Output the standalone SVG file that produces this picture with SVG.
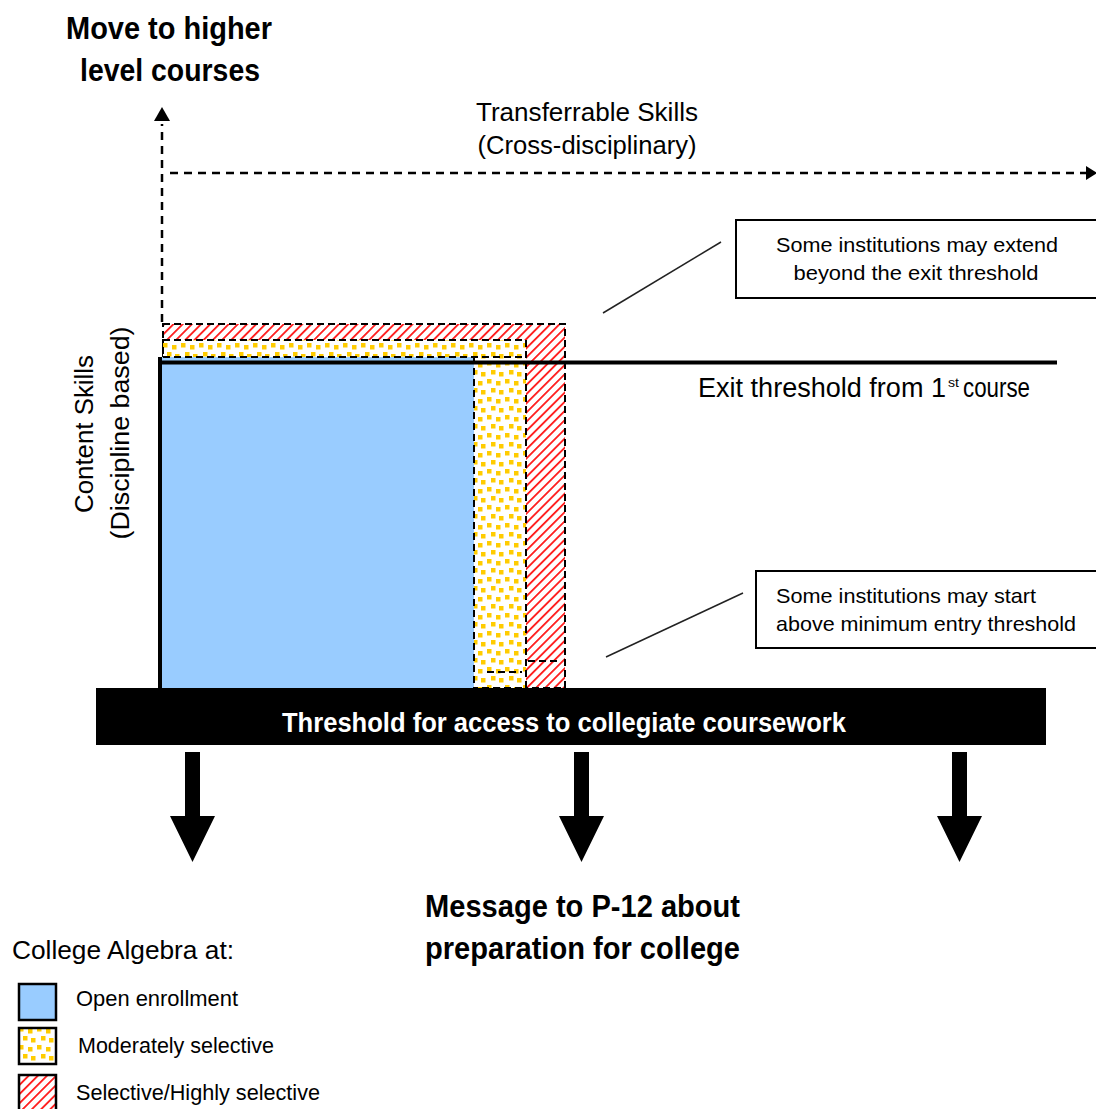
<svg xmlns="http://www.w3.org/2000/svg" width="1096" height="1109" viewBox="0 0 1096 1109">
  <style>
    text { font-family: "Liberation Sans", Arial, sans-serif; fill: #000; }
    .bold { font-weight: bold; }
    .dash { fill: none; stroke: #000; stroke-width: 2; stroke-dasharray: 7 4; }
    .axisdash { fill: none; stroke: #000; stroke-width: 2.5; stroke-dasharray: 8 6; }
    .thin { fill: none; stroke: #222; stroke-width: 1.5; }
    .box { fill: #fff; stroke: #000; stroke-width: 2; }
    .arrow { fill: #000; }
  </style>
  <defs>
    <pattern id="dots" width="18" height="18" patternUnits="userSpaceOnUse">
      <rect width="18" height="18" fill="#fff"/>
      <rect x="1" y="1" width="4.5" height="4.5" fill="#FFCC00"/>
      <rect x="10" y="3" width="4.5" height="4.5" fill="#FFCC00"/>
      <rect x="5" y="10" width="4.5" height="4.5" fill="#FFCC00"/>
      <rect x="13" y="12" width="4.5" height="4.5" fill="#FFCC00"/>
    </pattern>
    <pattern id="hatch" width="6.5" height="6.5" patternUnits="userSpaceOnUse" patternTransform="rotate(45)">
      <rect width="6.5" height="6.5" fill="#fff"/>
      <rect width="1.8" height="6.5" fill="#FF1A1A"/>
    </pattern>
  </defs>

  <!-- Titles -->
  <g id="title-higher">
    <text class="bold" x="169" y="39" font-size="31" text-anchor="middle" textLength="206" lengthAdjust="spacingAndGlyphs">Move to higher</text>
    <text class="bold" x="170" y="81" font-size="31" text-anchor="middle" textLength="180" lengthAdjust="spacingAndGlyphs">level courses</text>
  </g>
  <g id="label-transferrable">
    <text x="587" y="121" font-size="26" text-anchor="middle" textLength="222" lengthAdjust="spacingAndGlyphs">Transferrable Skills</text>
    <text x="587" y="154" font-size="26" text-anchor="middle" textLength="219" lengthAdjust="spacingAndGlyphs">(Cross-disciplinary)</text>
  </g>
  <g id="label-content">
    <text transform="translate(93,434) rotate(-90)" font-size="26" text-anchor="middle" textLength="158" lengthAdjust="spacingAndGlyphs">Content  Skills</text>
    <text transform="translate(129,433) rotate(-90)" font-size="26" text-anchor="middle" textLength="213" lengthAdjust="spacingAndGlyphs">(Discipline based)</text>
  </g>

  <!-- Regions -->
  <g id="selective-region">
    <rect x="163" y="324" width="402" height="364" fill="url(#hatch)"/>
    <rect x="163" y="324" width="402" height="364" class="dash"/>
    <line x1="528" y1="661" x2="558" y2="661" class="dash"/>
  </g>
  <g id="moderate-region">
    <rect x="163" y="340" width="363" height="348" fill="url(#dots)"/>
    <rect x="163" y="340" width="363" height="348" class="dash"/>
    <line x1="487" y1="672" x2="522" y2="672" class="dash"/>
  </g>
  <g id="open-region">
    <rect x="161" y="357" width="313" height="331" fill="#99CCFF"/>
    <line x1="474" y1="357" x2="474" y2="688" class="dash"/>
    <line x1="163" y1="357" x2="526" y2="357" class="dash"/>
  </g>

  <!-- Exit threshold -->
  <g id="exit-threshold">
    <line x1="160" y1="362.5" x2="1057" y2="362.5" stroke="#000" stroke-width="4"/>
    <text x="698" y="397" font-size="27" textLength="248" lengthAdjust="spacingAndGlyphs">Exit threshold from 1</text>
    <text x="948" y="387" font-size="13" textLength="11" lengthAdjust="spacingAndGlyphs">st</text>
    <text x="963" y="397" font-size="27" textLength="67" lengthAdjust="spacingAndGlyphs">course</text>
  </g>

  <!-- Threshold bar -->
  <g id="access-threshold">
    <rect x="96" y="688" width="950" height="57" fill="#000"/>
    <text class="bold" x="564" y="732" font-size="28" text-anchor="middle" style="fill:#fff" textLength="564" lengthAdjust="spacingAndGlyphs">Threshold for access to collegiate coursework</text>
  </g>

  <!-- Callouts -->
  <g id="callout-extend">
    <rect x="736" y="220" width="362" height="78" class="box"/>
    <text x="917" y="252" font-size="21" text-anchor="middle" textLength="282" lengthAdjust="spacingAndGlyphs">Some institutions may extend</text>
    <text x="916" y="280" font-size="21" text-anchor="middle" textLength="245" lengthAdjust="spacingAndGlyphs">beyond the exit threshold</text>
  </g>
  <g id="callout-start">
    <rect x="756" y="571" width="342" height="77" class="box"/>
    <text x="776" y="603" font-size="21" textLength="260" lengthAdjust="spacingAndGlyphs">Some institutions may start</text>
    <text x="776" y="631" font-size="21" textLength="300" lengthAdjust="spacingAndGlyphs">above minimum entry threshold</text>
  </g>

  <!-- Message -->
  <g id="message">
    <text class="bold" x="425" y="917" font-size="31" textLength="315" lengthAdjust="spacingAndGlyphs">Message to P-12 about</text>
    <text class="bold" x="425" y="959" font-size="31" textLength="315" lengthAdjust="spacingAndGlyphs">preparation for college</text>
  </g>

  <!-- Legend -->
  <g id="legend">
    <text x="12" y="959" font-size="26" textLength="222" lengthAdjust="spacingAndGlyphs">College Algebra at:</text>
    <rect x="19" y="984" width="37" height="36" fill="#99CCFF" stroke="#000" stroke-width="2.5"/>
    <text x="76" y="1006" font-size="22" textLength="162" lengthAdjust="spacingAndGlyphs">Open enrollment</text>
    <rect x="19" y="1028" width="37" height="36" fill="url(#dots)" stroke="#000" stroke-width="2.5"/>
    <text x="78" y="1053" font-size="22" textLength="196" lengthAdjust="spacingAndGlyphs">Moderately selective</text>
    <rect x="19" y="1075" width="37" height="40" fill="url(#hatch)" stroke="#000" stroke-width="2.5"/>
    <text x="76" y="1100" font-size="22" textLength="244" lengthAdjust="spacingAndGlyphs">Selective/Highly selective</text>
  </g>

  <!-- Connectors -->
  <g id="connectors">
    <line x1="160" y1="357" x2="160" y2="690" stroke="#000" stroke-width="4"/>
    <line x1="162" y1="322" x2="162" y2="124" class="axisdash"/>
    <path d="M162,107 L170,121 L154,121 Z" class="arrow"/>
    <line x1="170" y1="173" x2="1086" y2="173" class="axisdash"/>
    <path d="M1097,173 L1086,166 L1086,180 Z" class="arrow"/>
    <line x1="603" y1="313" x2="721" y2="242" class="thin"/>
    <line x1="606" y1="657" x2="743" y2="593" class="thin"/>
    <path d="M185,752 L200,752 L200,816 L215,816 L192.5,862 L170,816 L185,816 Z" class="arrow"/>
    <path d="M574,752 L589,752 L589,816 L604,816 L581.5,862 L559,816 L574,816 Z" class="arrow"/>
    <path d="M952,752 L967,752 L967,816 L982,816 L959.5,862 L937,816 L952,816 Z" class="arrow"/>
  </g>
</svg>
